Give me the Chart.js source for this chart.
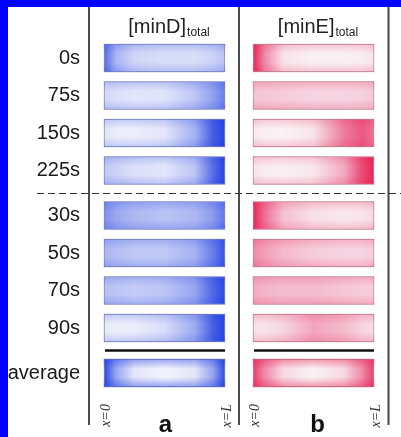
<!DOCTYPE html>
<html>
<head>
<meta charset="utf-8">
<script src="https://cdn.jsdelivr.net/npm/chart.js@4.4.1/dist/chart.umd.min.js"></script>
<style>
  html, body { margin: 0; padding: 0; background: #0000ff; }
  #wrap { position: absolute; left: 8px; top: 7px; width: 393px; height: 430px; background: #fff; }
</style>
</head>
<body>
<div id="wrap"><canvas id="kymo"></canvas></div>
<script>
// rows of the kymograph, top to bottom
const rowLabels = ['0s', '75s', '150s', '225s', '30s', '50s', '70s', '90s', 'average'];
// block of each row - a small gap and a separator go between blocks
const rowGroups = ['run', 'run', 'run', 'run', 'pulse', 'pulse', 'pulse', 'pulse', 'avg'];
const panelTitles = ['minD', 'minE'];
const panelLetters = ['a', 'b'];
const edgeLabels = ['x=0', 'x=L'];

// sample points along the cell (0 = x=0, 1 = x=L)
const xSamples = [0, 0.1, 0.25, 0.5, 0.75, 0.9, 1];

// relative concentration at each sample point (0 = none, 1 = max)
const minD = [
  [0.75, 0.4, 0.2, 0.15, 0.15, 0.22, 0.32],
  [0.18, 0.14, 0.1, 0.12, 0.3, 0.52, 0.68],
  [0.1, 0.06, 0.05, 0.1, 0.42, 0.82, 0.95],
  [0.28, 0.22, 0.14, 0.1, 0.3, 0.75, 0.95],
  [0.6, 0.48, 0.38, 0.32, 0.38, 0.55, 0.72],
  [0.4, 0.34, 0.28, 0.28, 0.42, 0.68, 0.88],
  [0.34, 0.3, 0.26, 0.3, 0.5, 0.78, 0.92],
  [0.08, 0.05, 0.06, 0.16, 0.46, 0.82, 0.95],
  [0.92, 0.5, 0.1, 0.02, 0.1, 0.5, 0.92]
];
const minE = [
  [0.95, 0.55, 0.1, 0.03, 0.03, 0.05, 0.1],
  [0.26, 0.24, 0.22, 0.18, 0.18, 0.2, 0.24],
  [0.08, 0.03, 0.02, 0.1, 0.6, 0.75, 0.65],
  [0.1, 0.05, 0.03, 0.08, 0.4, 0.8, 0.95],
  [0.95, 0.65, 0.28, 0.12, 0.08, 0.1, 0.15],
  [0.55, 0.45, 0.32, 0.22, 0.18, 0.18, 0.22],
  [0.38, 0.34, 0.3, 0.3, 0.25, 0.22, 0.22],
  [0.12, 0.1, 0.18, 0.42, 0.32, 0.18, 0.14],
  [0.85, 0.55, 0.15, 0.02, 0.15, 0.55, 0.85]
];

// ---- layout -------------------------------------------------------------
const GROUP_GAP = 0.2;     // extra space between blocks, in rows
const PANEL_B = 1.2314;    // where the second panel starts on the x scale
const BAR_PX = 28;

const rowPos = [];
let gapCount = 0;
rowLabels.forEach((_, i) => {
  if (i > 0 && rowGroups[i] !== rowGroups[i - 1]) gapCount++;
  rowPos.push(i + gapCount * GROUP_GAP);
});
const panelStarts = [0, PANEL_B];

const BLUE_RAMP = [[246, 246, 252], [150, 165, 240], [25, 55, 225]];
const RED_RAMP = [[250, 246, 248], [240, 150, 180], [232, 25, 75]];

function rampColor(t, ramp) {
  const seg = t < 0.5 ? 0 : 1;
  const f = (t - seg * 0.5) / 0.5;
  const a = ramp[seg], b = ramp[seg + 1];
  const c = a.map((v, k) => Math.round(v + (b[k] - v) * f));
  return `rgb(${c[0]},${c[1]},${c[2]})`;
}

// horizontal gradient built from a row's profile
function barFill(profiles, offset, ramp) {
  return (ctx) => {
    const chart = ctx.chart;
    if (!chart.chartArea || ctx.dataIndex === undefined) return rampColor(0.3, ramp);
    const xs = chart.scales.x;
    const x0 = xs.getPixelForValue(offset);
    const x1 = xs.getPixelForValue(offset + 1);
    const g = chart.ctx.createLinearGradient(x0, 0, x1, 0);
    profiles[ctx.dataIndex].forEach((t, k) => g.addColorStop(xSamples[k], rampColor(t, ramp)));
    return g;
  };
}

// membrane shading: a bit more colour along the top and bottom edge of each bar
function edgeShade(ramp) {
  const c = ramp[2];
  return (ctx) => {
    const chart = ctx.chart;
    if (!chart.chartArea || ctx.dataIndex === undefined) return 'rgba(0,0,0,0)';
    const yc = chart.scales.y.getPixelForValue(rowPos[ctx.dataIndex]);
    const a = rowGroups[ctx.dataIndex] === 'avg' ? 0.42 : 0.2;
    const g = chart.ctx.createLinearGradient(0, yc - BAR_PX / 2, 0, yc + BAR_PX / 2);
    g.addColorStop(0, `rgba(${c},${a})`);
    g.addColorStop(0.35, `rgba(${c},0)`);
    g.addColorStop(0.65, `rgba(${c},0)`);
    g.addColorStop(1, `rgba(${c},${a})`);
    return g;
  };
}

function barData(offset) {
  return rowPos.map(y => ({ x: [offset, offset + 1], y: y }));
}

// separators, headers, panel letters
const decorations = {
  id: 'decorations',
  afterDraw(chart) {
    const { ctx, chartArea } = chart;
    const xs = chart.scales.x, ys = chart.scales.y;
    const bottom = chart.height - 12;
    ctx.save();

    // vertical frame lines
    const mid = (xs.getPixelForValue(1) + xs.getPixelForValue(PANEL_B)) / 2;
    [[chartArea.left, '#111', 1.5], [mid, '#111', 1.5], [chartArea.right + 0.5, '#444', 2]].forEach(([x, col, w]) => {
      ctx.strokeStyle = col;
      ctx.lineWidth = w;
      ctx.beginPath();
      ctx.moveTo(x, 0);
      ctx.lineTo(x, bottom);
      ctx.stroke();
    });

    // block separators
    for (let i = 1; i < rowPos.length; i++) {
      if (rowGroups[i] === rowGroups[i - 1]) continue;
      const y = Math.round((ys.getPixelForValue(rowPos[i]) + ys.getPixelForValue(rowPos[i - 1])) / 2) + 0.5;
      if (rowGroups[i] === 'avg') {
        ctx.strokeStyle = '#111';
        ctx.lineWidth = 2.5;
        ctx.setLineDash([]);
        panelStarts.forEach(p => {
          ctx.beginPath();
          ctx.moveTo(xs.getPixelForValue(p) + 1, y);
          ctx.lineTo(xs.getPixelForValue(p + 1), y);
          ctx.stroke();
        });
      } else {
        ctx.strokeStyle = '#333';
        ctx.lineWidth = 1;
        ctx.setLineDash([7, 4]);
        ctx.beginPath();
        ctx.moveTo(29, y);
        ctx.lineTo(chart.width, y);
        ctx.stroke();
        ctx.setLineDash([]);
      }
    }

    // panel headers: [minD]total
    ctx.fillStyle = '#222';
    ctx.textBaseline = 'alphabetic';
    ctx.textAlign = 'left';
    panelStarts.forEach((p, k) => {
      const main = '[' + panelTitles[k] + ']';
      ctx.font = '20px "Liberation Sans", Arial, sans-serif';
      const wMain = ctx.measureText(main).width;
      ctx.font = '12px "Liberation Sans", Arial, sans-serif';
      const wSub = ctx.measureText('total').width;
      const cx = xs.getPixelForValue(p + 0.5) + 4;
      const x0 = cx - (wMain + wSub) / 2;
      ctx.font = '20px "Liberation Sans", Arial, sans-serif';
      ctx.fillText(main, x0, 26);
      ctx.font = '12px "Liberation Sans", Arial, sans-serif';
      ctx.fillText('total', x0 + wMain + 1, 29);
    });

    // panel letters
    ctx.font = 'bold 24px "Liberation Sans", Arial, sans-serif';
    ctx.textAlign = 'center';
    ctx.fillStyle = '#111';
    panelStarts.forEach((p, k) => {
      ctx.fillText(panelLetters[k], xs.getPixelForValue(p + 0.5) + 1 + k * 3, 425);
    });
    ctx.restore();
  }
};

const barCommon = { borderSkipped: false, grouped: false, barThickness: BAR_PX };

new Chart(document.getElementById('kymo'), {
  type: 'bar',
  data: {
    datasets: [
      {
        ...barCommon,
        label: '[minD]total',
        data: barData(panelStarts[0]),
        backgroundColor: barFill(minD, panelStarts[0], BLUE_RAMP),
        borderColor: 'rgba(70,80,130,0.65)',
        borderWidth: 1,
        order: 2
      },
      {
        ...barCommon,
        label: '[minE]total',
        data: barData(panelStarts[1]),
        backgroundColor: barFill(minE, panelStarts[1], RED_RAMP),
        borderColor: 'rgba(130,90,105,0.65)',
        borderWidth: 1,
        order: 2
      },
      {
        ...barCommon,
        label: 'minD edge',
        data: barData(panelStarts[0]),
        backgroundColor: edgeShade(BLUE_RAMP),
        borderWidth: 0,
        order: 1
      },
      {
        ...barCommon,
        label: 'minE edge',
        data: barData(panelStarts[1]),
        backgroundColor: edgeShade(RED_RAMP),
        borderWidth: 0,
        order: 1
      }
    ]
  },
  options: {
    indexAxis: 'y',
    responsive: true,
    maintainAspectRatio: false,
    animation: false,
    layout: { padding: { top: 12, right: 13, bottom: 9, left: 0 } },
    plugins: {
      legend: { display: false },
      title: { display: false },
      tooltip: { enabled: false }
    },
    scales: {
      x: {
        type: 'linear',
        min: -0.124,
        max: 2.347,
        grid: { display: false, drawTicks: false },
        border: { display: false },
        afterBuildTicks: (s) => {
          s.ticks = [0, 1, PANEL_B, PANEL_B + 1].map(v => ({ value: v }));
        },
        afterFit: (s) => { s.height = 24; },
        ticks: {
          autoSkip: false,
          minRotation: 90,
          maxRotation: 90,
          padding: 0,
          labelOffset: 2,
          color: '#333',
          font: { family: '"Liberation Serif", serif', size: 14, style: 'italic' },
          callback: (v, i) => edgeLabels[i % 2]
        }
      },
      y: {
        type: 'linear',
        reverse: true,
        offset: false,
        min: -0.8,
        max: 9.2267,
        grid: { display: false, drawTicks: false, offset: false },
        border: { display: false },
        afterBuildTicks: (s) => {
          s.ticks = rowPos.map(v => ({ value: v }));
        },
        afterFit: (s) => { s.width = 81; },
        ticks: {
          autoSkip: false,
          padding: 9,
          color: '#1a1a1a',
          font: { family: '"Liberation Sans", Arial, sans-serif', size: 20 },
          callback: (v, i) => rowLabels[i]
        }
      }
    }
  },
  plugins: [decorations]
});
</script>
</body>
</html>
